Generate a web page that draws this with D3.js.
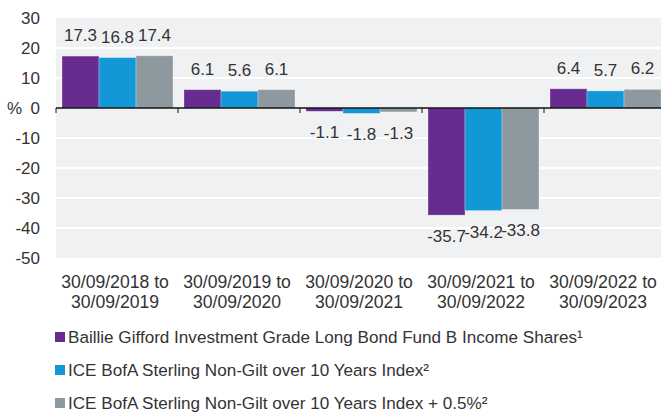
<!DOCTYPE html>
<meta charset="utf-8">
<style>
body { margin: 0; background: #fff; }
text { font-family: "Liberation Sans", Arial, sans-serif; fill: #333; }
.grid line { stroke: #fff; stroke-width: 2; }
</style>
<svg width="661" height="414"></svg>
<script src="https://d3js.org/d3.v7.min.js"></script>
<script>

var periods = [
  ["30/09/2018 to", "30/09/2019"],
  ["30/09/2019 to", "30/09/2020"],
  ["30/09/2020 to", "30/09/2021"],
  ["30/09/2021 to", "30/09/2022"],
  ["30/09/2022 to", "30/09/2023"]
];
var seriesNames = [
  "Baillie Gifford Investment Grade Long Bond Fund B Income Shares\u00b9",
  "ICE BofA Sterling Non-Gilt over 10 Years Index\u00b2",
  "ICE BofA Sterling Non-Gilt over 10 Years Index + 0.5%\u00b2"
];
var fundValues = [17.3, 6.1, -1.1, -35.7, 6.4];
var indexValues = [16.8, 5.6, -1.8, -34.2, 5.7];
var indexPlusValues = [17.4, 6.1, -1.3, -33.8, 6.2];
var yTicks = [30, 20, 10, 0, -10, -20, -30, -40, -50];
var colors = ["#682c91", "#1298d6", "#8e999f"];

var series = [fundValues, indexValues, indexPlusValues];

var svg = d3.select("svg");

var x = d3.scaleBand()
    .domain(d3.range(periods.length))
    .range([56, 666])
    .paddingInner(0)
    .paddingOuter(0);

var inner = d3.scaleBand()
    .domain(d3.range(series.length))
    .range([6, x.bandwidth() - 5]);

var y = d3.scaleLinear()
    .domain([-50, 30])
    .range([258, 18]);

// plot background
svg.append("rect")
    .attr("x", x.range()[0])
    .attr("y", y(30))
    .attr("width", x.range()[1] - x.range()[0])
    .attr("height", y(-50) - y(30))
    .attr("fill", "#f0f1f3");

svg.append("g")
    .attr("class", "grid")
  .selectAll("line")
  .data(yTicks.filter(d => d !== 0 && d !== 30 && d !== -50))
  .enter().append("line")
    .attr("x1", x.range()[0])
    .attr("x2", x.range()[1])
    .attr("y1", d => y(d))
    .attr("y2", d => y(d));

// y labels
svg.append("g")
  .selectAll("text")
  .data(yTicks)
  .enter().append("text")
    .attr("x", 40)
    .attr("y", d => y(d))
    .attr("dy", "0.36em")
    .attr("text-anchor", "end")
    .attr("font-size", 17)
    .text(d => d);

svg.append("text")
    .attr("x", 7)
    .attr("y", y(0))
    .attr("dy", "0.36em")
    .attr("font-size", 17)
    .text("%");

// bars
var groups = svg.append("g")
  .selectAll("g")
  .data(periods)
  .enter().append("g")
    .attr("transform", (d, i) => "translate(" + x(i) + ",0)");

groups.selectAll("rect")
  .data((d, i) => series.map((s, k) => ({ k: k, v: s[i] })))
  .enter().append("rect")
    .attr("x", d => inner(d.k))
    .attr("width", inner.bandwidth())
    .attr("y", d => y(Math.max(0, d.v)))
    .attr("height", d => Math.abs(y(d.v) - y(0)))
    .attr("fill", d => colors[d.k])
    .attr("stroke", "#fff")
    .attr("stroke-opacity", 0.35)
    .attr("stroke-width", 0.8);

groups.selectAll("text.val")
  .data((d, i) => series.map((s, k) => ({ k: k, v: s[i] })))
  .enter().append("text")
    .attr("class", "val")
    .attr("x", d => inner(d.k) + inner.bandwidth() / 2)
    .attr("y", d => d.v >= 0 ? y(d.v) - 15 : y(d.v) + 27)
    .attr("text-anchor", "middle")
    .attr("font-size", 17)
    .text(d => d.v.toFixed(1));

// zero axis with ticks
var axis = svg.append("g");
axis.append("line")
    .attr("x1", x.range()[0])
    .attr("x2", x.range()[1])
    .attr("y1", y(0))
    .attr("y2", y(0))
    .attr("stroke", "#111")
    .attr("stroke-width", 1.5);
axis.selectAll("line.tick")
  .data(d3.range(periods.length))
  .enter().append("line")
    .attr("class", "tick")
    .attr("x1", d => x(d))
    .attr("x2", d => x(d))
    .attr("y1", y(0))
    .attr("y2", y(0) + 5)
    .attr("stroke", "#111")
    .attr("stroke-width", 1);

// category labels
svg.append("g")
  .selectAll("text")
  .data(periods)
  .enter().append("text")
    .attr("x", (d, i) => x(i) + x.bandwidth() / 2 - 2)
    .attr("y", 288)
    .attr("text-anchor", "middle")
    .attr("font-size", 17.6)
  .selectAll("tspan")
  .data(d => d)
  .enter().append("tspan")
    .attr("x", function() { return this.parentNode.getAttribute("x"); })
    .attr("dy", (d, j) => j === 0 ? 0 : 20)
    .text(d => d);

// legend
var legend = svg.append("g")
  .selectAll("g")
  .data(seriesNames)
  .enter().append("g")
    .attr("transform", (d, i) => "translate(55," + (337 + i * 33) + ")");

legend.append("rect")
    .attr("x", 0)
    .attr("y", -5)
    .attr("width", 10)
    .attr("height", 10)
    .attr("fill", (d, i) => colors[i]);

legend.append("text")
    .attr("x", 13)
    .attr("dy", "0.36em")
    .attr("font-size", 17.1)
    .text(d => d);

</script>
